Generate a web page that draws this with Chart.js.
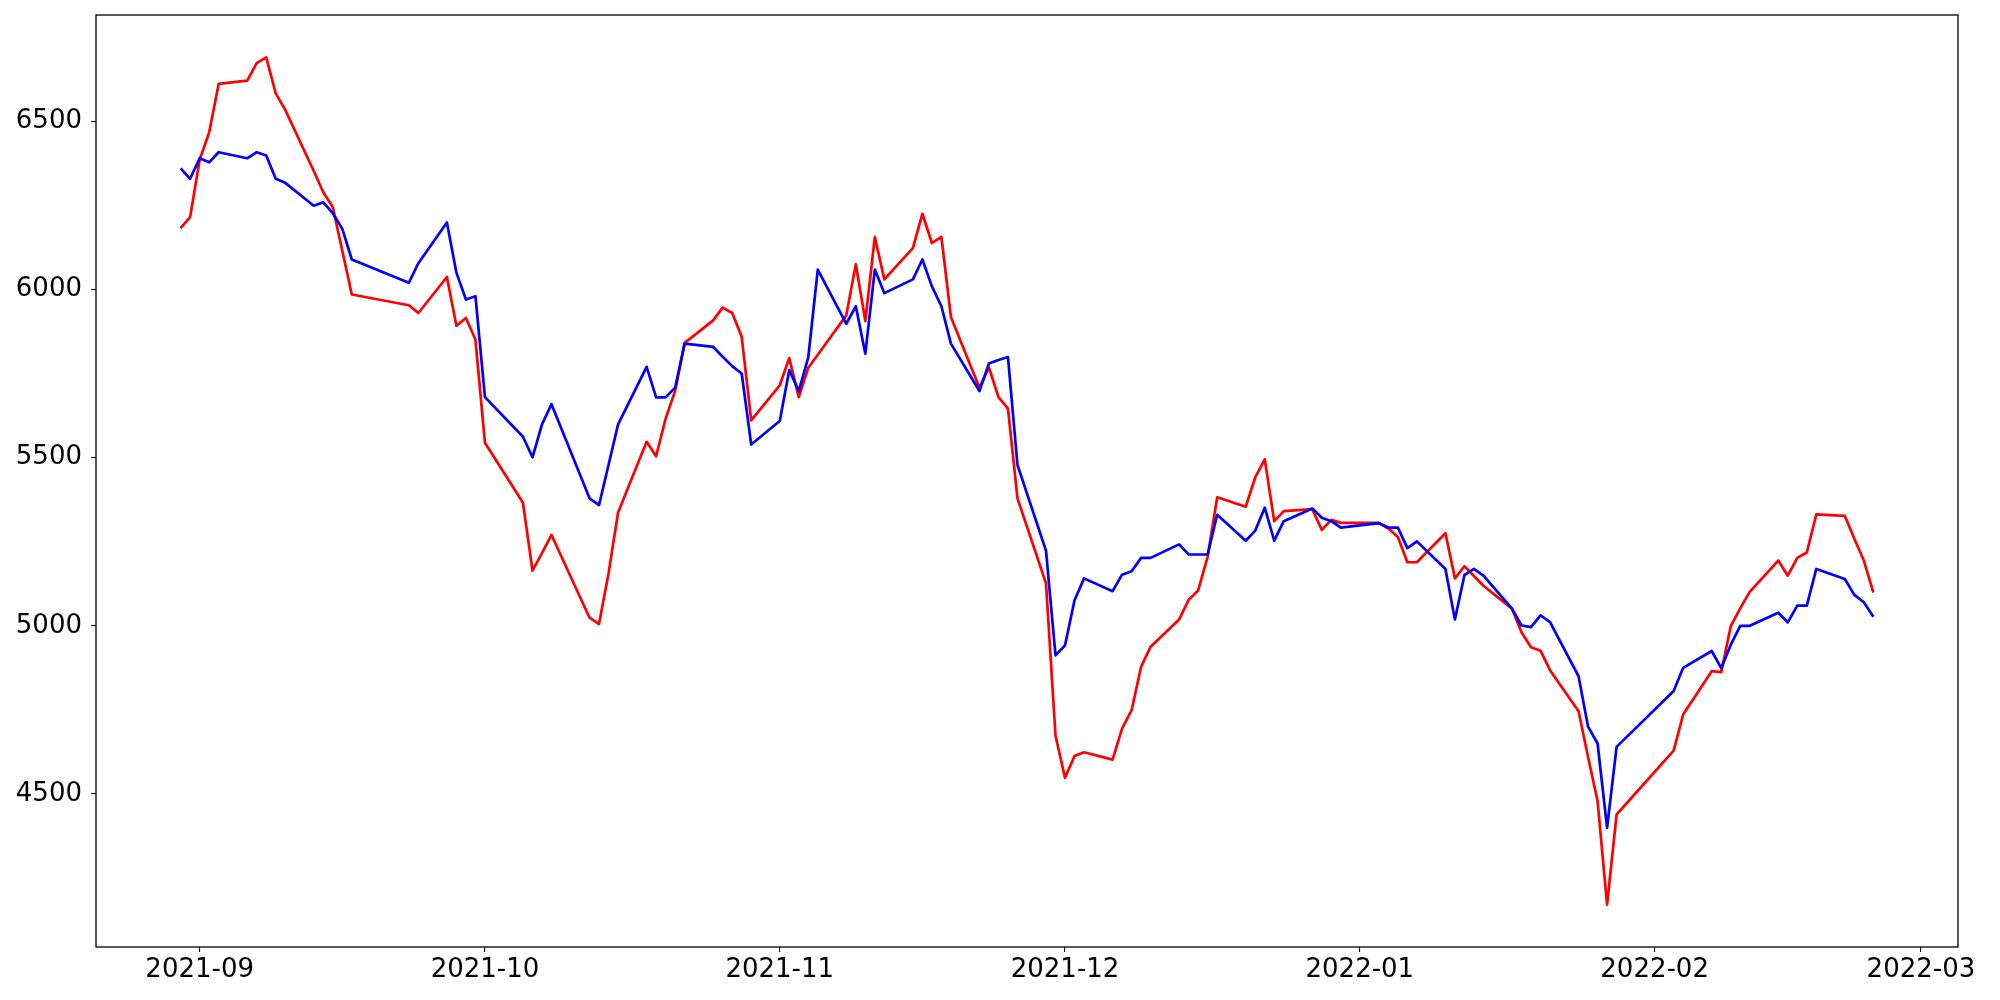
<!DOCTYPE html>
<html>
<head>
<meta charset="utf-8">
<script src="https://cdn.jsdelivr.net/npm/chart.js@4/dist/chart.umd.min.js"></script>
<style>
  html, body { margin: 0; padding: 0; background: #ffffff; }
  #wrap { width: 2000px; height: 1000px; }
</style>
</head>
<body>
<div id="wrap"><canvas id="c" width="2000" height="1000"></canvas></div>
<script>
// ---- data (trading days) ----
const dates = [
  '2021-08-30','2021-08-31','2021-09-01','2021-09-02','2021-09-03',
  '2021-09-06','2021-09-07','2021-09-08','2021-09-09','2021-09-10',
  '2021-09-13','2021-09-14','2021-09-15','2021-09-16','2021-09-17',
  '2021-09-23','2021-09-24',
  '2021-09-27','2021-09-28','2021-09-29','2021-09-30','2021-10-01',
  '2021-10-05','2021-10-06','2021-10-07','2021-10-08',
  '2021-10-12','2021-10-13','2021-10-14','2021-10-15',
  '2021-10-18','2021-10-19','2021-10-20','2021-10-21','2021-10-22',
  '2021-10-25','2021-10-26','2021-10-27','2021-10-28','2021-10-29',
  '2021-11-01','2021-11-02','2021-11-03','2021-11-04','2021-11-05',
  '2021-11-08','2021-11-09','2021-11-10','2021-11-11','2021-11-12',
  '2021-11-15','2021-11-16','2021-11-17','2021-11-18','2021-11-19',
  '2021-11-22','2021-11-23','2021-11-24','2021-11-25','2021-11-26',
  '2021-11-29','2021-11-30','2021-12-01','2021-12-02','2021-12-03',
  '2021-12-06','2021-12-07','2021-12-08','2021-12-09','2021-12-10',
  '2021-12-13','2021-12-14','2021-12-15','2021-12-16','2021-12-17',
  '2021-12-20','2021-12-21','2021-12-22','2021-12-23','2021-12-24',
  '2021-12-27','2021-12-28','2021-12-29','2021-12-30',
  '2022-01-03','2022-01-04','2022-01-05','2022-01-06','2022-01-07',
  '2022-01-10','2022-01-11','2022-01-12','2022-01-13','2022-01-14',
  '2022-01-17','2022-01-18','2022-01-19','2022-01-20','2022-01-21',
  '2022-01-24','2022-01-25','2022-01-26','2022-01-27','2022-01-28',
  '2022-02-03','2022-02-04',
  '2022-02-07','2022-02-08','2022-02-09','2022-02-10','2022-02-11',
  '2022-02-14','2022-02-15','2022-02-16','2022-02-17','2022-02-18',
  '2022-02-21','2022-02-22','2022-02-23','2022-02-24'
];

const blueValues = [
  6360, 6329, 6390, 6378, 6408,
  6390, 6408, 6398, 6329, 6317,
  6249, 6259, 6227, 6180, 6089,
  6020, 6078,
  6199, 6050, 5970, 5980, 5680,
  5562, 5501, 5599, 5659,
  5379, 5359, 5479, 5599,
  5770, 5679, 5679, 5708, 5839,
  5829, 5800, 5772, 5750, 5539,
  5609, 5760, 5698, 5798, 6059,
  5898, 5950, 5809, 6059, 5989,
  6030, 6089, 6009, 5950, 5839,
  5698, 5780, 5790, 5799, 5478,
  5223, 4912, 4942, 5076, 5141,
  5103, 5152, 5162, 5202, 5202,
  5242, 5212, 5212, 5212, 5330,
  5253, 5283, 5351, 5253, 5311,
  5349, 5321, 5311, 5292,
  5305, 5292, 5292, 5231, 5251,
  5169, 5019, 5151, 5169, 5149,
  5051, 5001, 4996, 5031, 5011,
  4850, 4700, 4650, 4399, 4640,
  4806, 4875,
  4925, 4874, 4943, 5000, 5000,
  5039, 5010, 5060, 5060, 5169,
  5139, 5092, 5070, 5027
];

const redValues = [
  6182, 6215, 6385, 6467, 6611,
  6621, 6673, 6690, 6583, 6534,
  6352, 6289, 6245, 6115, 5985,
  5953, 5930,
  6037, 5892, 5915, 5851, 5544,
  5366, 5164, 5216, 5270,
  5024, 5005, 5156, 5337,
  5547, 5504, 5616, 5698, 5841,
  5908, 5946, 5930, 5859, 5611,
  5715, 5796, 5680, 5767, 5806,
  5923, 6075, 5906, 6156, 6030,
  6123, 6225, 6138, 6156, 5918,
  5708, 5768, 5680, 5646, 5379,
  5126, 4673, 4548, 4613, 4624,
  4602, 4694, 4749, 4878, 4938,
  5019, 5077, 5105, 5206, 5382,
  5354, 5441, 5495, 5311, 5341,
  5347, 5285, 5315, 5306,
  5306, 5289, 5264, 5189, 5189,
  5275, 5141, 5177, 5148, 5119,
  5051, 4981, 4936, 4926, 4868,
  4746, 4610, 4479, 4171, 4439,
  4629, 4736,
  4865, 4862, 4998, 5052, 5101,
  5194, 5149, 5202, 5218, 5331,
  5327, 5259, 5194, 5099
];

const xTickLabels = ['2021-09','2021-10','2021-11','2021-12','2022-01','2022-02','2022-03'];
const yTickValues = [4500, 5000, 5500, 6000, 6500];

// ---- helpers ----
function toDay(s) {
  const p = s.split('-').map(Number);
  return Date.UTC(p[0], p[1] - 1, p[2] || 1) / 86400000;
}
const xs = dates.map(toDay);
const xMinData = Math.min(...xs), xMaxData = Math.max(...xs);
const xSpan = xMaxData - xMinData;
const allVals = blueValues.concat(redValues);
const yMinData = Math.min(...allVals), yMaxData = Math.max(...allVals);
const ySpan = yMaxData - yMinData;

const redData = xs.map((x, i) => ({ x: x, y: redValues[i] }));
const blueData = xs.map((x, i) => ({ x: x, y: blueValues[i] }));

const FONT = { family: 'DejaVu Sans', size: 26 };

const framePlugin = {
  id: 'frame',
  afterDatasetsDraw(chart) {
    const a = chart.chartArea, ctx = chart.ctx;
    ctx.save();
    ctx.strokeStyle = '#000';
    ctx.lineWidth = 1.3;
    ctx.strokeRect(a.left, a.top, a.right - a.left, a.bottom - a.top);
    ctx.restore();
  }
};

new Chart(document.getElementById('c'), {
  type: 'line',
  data: {
    datasets: [
      { label: 'blue', data: blueData, borderColor: '#0000ff', backgroundColor: '#0000ff',
        borderWidth: 2.7, pointRadius: 0, tension: 0, fill: false, borderJoinStyle: 'round', borderCapStyle: 'butt' },
      { label: 'red', data: redData, borderColor: '#ff0000', backgroundColor: '#ff0000',
        borderWidth: 2.7, pointRadius: 0, tension: 0, fill: false, borderJoinStyle: 'round', borderCapStyle: 'butt' }
    ]
  },
  options: {
    responsive: false,
    animation: false,
    devicePixelRatio: 1,
    layout: { padding: { left: 0, top: 15, right: 42, bottom: 0 } },
    plugins: { legend: { display: false }, tooltip: { enabled: false } },
    scales: {
      x: {
        type: 'linear',
        min: xMinData - 0.05 * xSpan,
        max: xMaxData + 0.05 * xSpan,
        border: { display: false },
        grid: { display: true, drawOnChartArea: false, drawTicks: true, tickLength: 5, color: '#000', lineWidth: 1.1 },
        ticks: {
          color: '#000', font: FONT, padding: 3, maxRotation: 0, autoSkip: false,
          callback: (v, i) => xTickLabels[i]
        },
        afterBuildTicks: (scale) => { scale.ticks = xTickLabels.map(s => ({ value: toDay(s + '-01') })); },
        afterFit: (scale) => { scale.height = 53; scale.paddingLeft = 0; scale.paddingRight = 0; }
      },
      y: {
        type: 'linear',
        min: yMinData - 0.05 * ySpan,
        max: yMaxData + 0.05 * ySpan,
        border: { display: false },
        grid: { display: true, drawOnChartArea: false, drawTicks: true, tickLength: 5, color: '#000', lineWidth: 1.1 },
        ticks: { color: '#000', font: FONT, padding: 9, callback: (v) => String(v) },
        afterBuildTicks: (scale) => { scale.ticks = yTickValues.map(v => ({ value: v })); },
        afterFit: (scale) => { scale.width = 96; scale.paddingTop = 0; scale.paddingBottom = 0; }
      }
    }
  },
  plugins: [framePlugin]
});
</script>
</body>
</html>
